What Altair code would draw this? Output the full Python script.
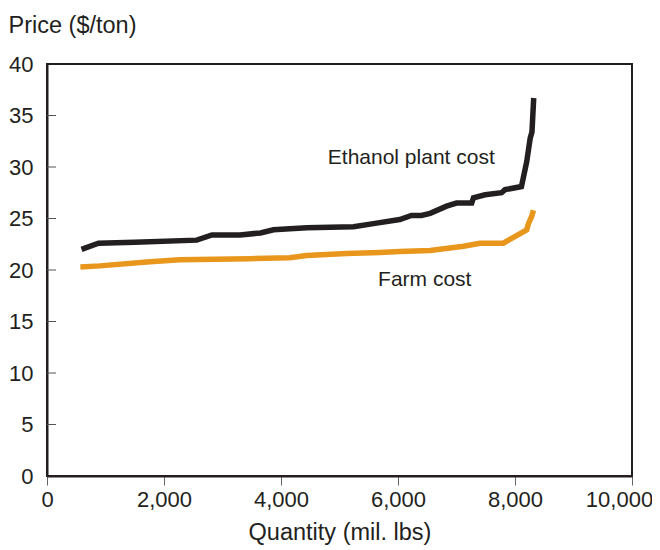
import altair as alt
import pandas as pd

# Ethanol plant cost curve
eth_x = [590, 880, 1500, 2560, 2820, 3300, 3650, 3870, 4440, 5240, 5580, 6030,
         6230, 6400, 6550, 6830, 7000, 7260, 7290, 7490, 7770, 7830, 8110,
         8200, 8260, 8290, 8320]
eth_y = [22.0, 22.6, 22.7, 22.9, 23.4, 23.4, 23.6, 23.9, 24.1, 24.2, 24.5, 24.9,
         25.3, 25.3, 25.5, 26.2, 26.5, 26.5, 27.0, 27.3, 27.5, 27.8, 28.1,
         30.5, 32.8, 33.4, 36.7]

# Farm cost curve
farm_x = [570, 900, 1760, 2270, 3470, 4150, 4440, 5120, 5690, 6030, 6550, 7120,
          7400, 7800, 7890, 8110, 8200, 8230, 8285, 8315]
farm_y = [20.3, 20.4, 20.8, 21.0, 21.1, 21.2, 21.4, 21.6, 21.7, 21.8, 21.9, 22.3,
          22.6, 22.6, 22.9, 23.6, 23.9, 24.5, 25.2, 25.8]

series_names = ["Ethanol plant cost", "Farm cost"]
series_colors = ["#231f20", "#e9961d"]

x_ticks = [0, 2000, 4000, 6000, 8000, 10000]
y_ticks = [0, 5, 10, 15, 20, 25, 30, 35, 40]
inner_y_ticks = [5, 10, 15, 20, 25, 30, 35]

label_text = ["Ethanol plant cost", "Farm cost"]
label_x = [4800, 5660]
label_y = [30.3, 18.45]

df = pd.concat([
    pd.DataFrame({"q": eth_x, "p": eth_y, "series": series_names[0]}),
    pd.DataFrame({"q": farm_x, "p": farm_y, "series": series_names[1]}),
])
ticks_df = pd.DataFrame({"p": inner_y_ticks})
labels_df = pd.DataFrame({"q": label_x, "p": label_y, "label": label_text})

FONT = "Liberation Sans"
INK = "#231f20"

x_scale = alt.Scale(domain=[0, 10000], nice=False, zero=False)
y_scale = alt.Scale(domain=[0, 40], nice=False)


def x_axis():
    return alt.Axis(
        values=x_ticks, format=",.0f", title="Quantity (mil. lbs)",
        tickSize=9, tickColor="#666666", tickWidth=1, labelPadding=4,
        labelFlush=False,
        labelOffset={"condition": {"test": "datum.value == 10000", "value": -13}, "value": 0},
        titleY=63, titleBaseline="alphabetic")


def y_axis():
    return alt.Axis(
        values=y_ticks, format="d", title="Price ($/ton)", ticks=False, labelPadding=14,
        titleAngle=0, titleAlign="left", titleBaseline="alphabetic",
        titleX=-39, titleY=-32)


lines = alt.Chart(df).mark_line(strokeWidth=5.5, strokeCap="butt", strokeJoin="miter").encode(
    x=alt.X("q:Q", scale=x_scale, axis=x_axis()),
    y=alt.Y("p:Q", scale=y_scale, axis=y_axis()),
    color=alt.Color("series:N", scale=alt.Scale(domain=series_names, range=series_colors), legend=None),
    detail="series:N",
)

inner_ticks = alt.Chart(ticks_df).mark_rule(color="#555555", strokeWidth=1).encode(
    y=alt.Y("p:Q", scale=y_scale, axis=y_axis()),
    x=alt.value(0),
    x2=alt.value(9),
)

labels = alt.Chart(labels_df).mark_text(
    align="left", baseline="alphabetic", fontSize=21, font=FONT, color=INK
).encode(
    x=alt.X("q:Q", scale=x_scale, axis=x_axis()),
    y=alt.Y("p:Q", scale=y_scale, axis=y_axis()),
    text="label:N",
)

chart = alt.layer(lines, inner_ticks, labels).properties(
    width=585, height=412,
    autosize=alt.AutoSizeParams(type="none"),
    padding={"left": 39, "top": 56, "right": 20, "bottom": 70},
    background="white",
).configure_view(
    stroke=INK, strokeWidth=2
).configure_axis(
    grid=False, domainColor=INK, domainWidth=2,
    labelFont=FONT, labelFontSize=22, labelColor=INK,
    titleFont=FONT, titleFontSize=23.5, titleFontWeight="normal", titleColor=INK,
)

chart.save("out.html", embed_options={"renderer": "svg", "actions": False})
